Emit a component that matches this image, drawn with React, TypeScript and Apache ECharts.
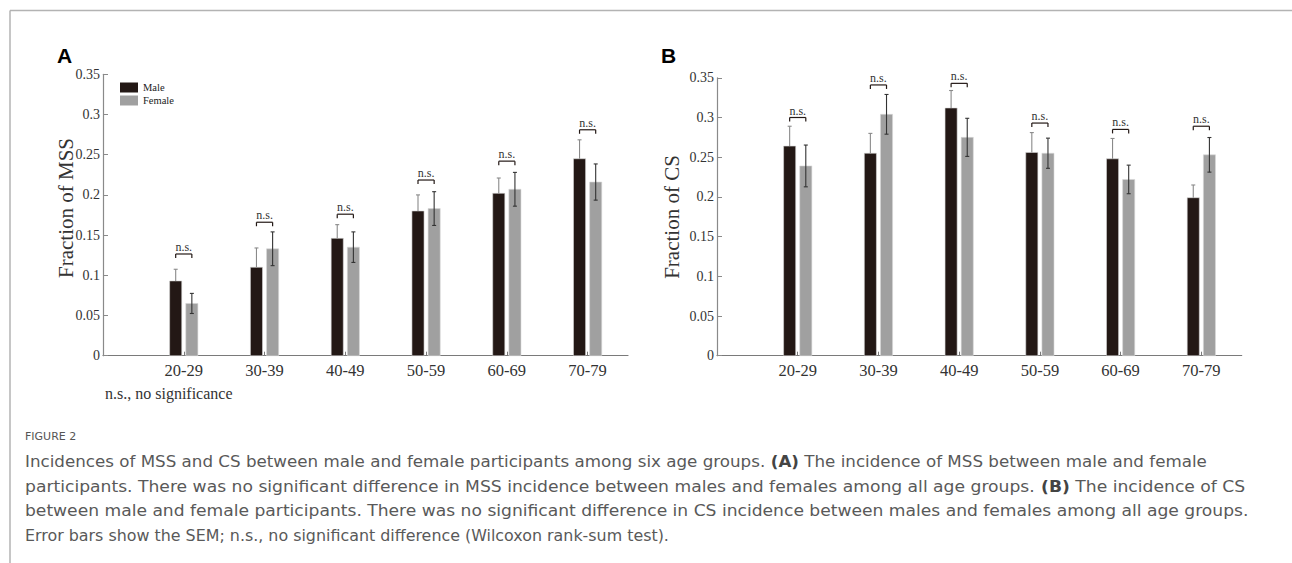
import React, { useEffect, useRef } from "react";
import * as echarts from "echarts";

const categories = ["20-29", "30-39", "40-49", "50-59", "60-69", "70-79"];
const yTicks = [0, 0.05, 0.1, 0.15, 0.2, 0.25, 0.3, 0.35];

const mssMale = [0.093, 0.11, 0.146, 0.18, 0.202, 0.245];
const mssMaleErr = [0.0145, 0.024, 0.017, 0.02, 0.019, 0.0235];
const mssFemale = [0.065, 0.133, 0.135, 0.183, 0.207, 0.216];
const mssFemaleErr = [0.0125, 0.021, 0.019, 0.021, 0.021, 0.0225];
const mssBracket = [0.1265, 0.166, 0.176, 0.2185, 0.242, 0.281];

const csMale = [0.264, 0.255, 0.312, 0.256, 0.248, 0.199];
const csMaleErr = [0.025, 0.025, 0.022, 0.025, 0.0256, 0.016];
const csFemale = [0.239, 0.304, 0.275, 0.255, 0.222, 0.253];
const csFemaleErr = [0.0263, 0.025, 0.024, 0.019, 0.018, 0.0218];
const csBracket = [0.3, 0.341, 0.343, 0.293, 0.285, 0.289];

const captionLines = [
  "Incidences of MSS and CS between male and female participants among six age groups. {b|(A)} The incidence of MSS between male and female",
  "participants. There was no significant difference in MSS incidence between males and females among all age groups. {b|(B)} The incidence of CS",
  "between male and female participants. There was no significant difference in CS incidence between males and females among all age groups.",
  "Error bars show the SEM; n.s., no significant difference (Wilcoxon rank-sum test).",
];
const captionStretch = [1.078, 1.108, 1.105, 1.025];

const MALE = "#231815";
const FEMALE = "#a0a0a0";
const SERIF = "Liberation Serif";
const SANS = "DejaVu Sans";

function barSeries(name: string, gi: number, vals: number[], errs: number[], off: number, color: string, errColor: string, full: boolean) {
  return {
    type: "custom",
    name,
    xAxisIndex: gi,
    yAxisIndex: gi,
    clip: false,
    itemStyle: { color },
    encode: { x: 0, y: 1 },
    data: vals.map((v, i) => [i + 1, v, errs[i]]),
    renderItem: (params: any, api: any) => {
      const x = api.value(0) + off;
      const v = api.value(1);
      const e = api.value(2);
      const w = api.size([0.15, 0])[0];
      const top = api.coord([x, v]);
      const base = api.coord([x, 0]);
      const et = api.coord([x, v + e]);
      const eb = api.coord([x, v - e]);
      const cx = top[0];
      const children: any[] = [
        {
          type: "rect",
          shape: { x: cx - w / 2, y: top[1], width: w, height: base[1] - top[1] },
          style: { fill: color, stroke: "#d8d8d8", lineWidth: 0.6 },
        },
        {
          type: "line",
          shape: { x1: cx, y1: full ? eb[1] : top[1], x2: cx, y2: et[1] },
          style: { stroke: errColor, lineWidth: 1.1 },
        },
        {
          type: "line",
          shape: { x1: cx - 2, y1: et[1], x2: cx + 2, y2: et[1] },
          style: { stroke: errColor, lineWidth: 1.1 },
        },
      ];
      if (full) {
        children.push({
          type: "line",
          shape: { x1: cx - 2, y1: eb[1], x2: cx + 2, y2: eb[1] },
          style: { stroke: errColor, lineWidth: 1.1 },
        });
      }
      return { type: "group", children };
    },
  };
}

function bracketSeries(gi: number, vals: number[]) {
  return {
    type: "custom",
    name: "n.s." + gi,
    xAxisIndex: gi,
    yAxisIndex: gi,
    clip: false,
    encode: { x: 0, y: 1 },
    data: vals.map((v, i) => [i + 1, v]),
    renderItem: (params: any, api: any) => {
      const x = api.value(0);
      const b = api.value(1);
      const l = api.coord([x - 0.1, b]);
      const r = api.coord([x + 0.1, b]);
      const st = { stroke: "#231815", lineWidth: 1.2 };
      return {
        type: "group",
        children: [
          { type: "line", shape: { x1: l[0], y1: l[1], x2: r[0], y2: r[1] }, style: st },
          { type: "line", shape: { x1: l[0], y1: l[1], x2: l[0], y2: l[1] + 4 }, style: st },
          { type: "line", shape: { x1: r[0], y1: r[1], x2: r[0], y2: r[1] + 4 }, style: st },
          {
            type: "text",
            x: (l[0] + r[0]) / 2,
            y: l[1] - 1,
            style: { text: "n.s.", fontFamily: SERIF, fontSize: 12, fill: "#333", align: "center", verticalAlign: "bottom" },
          },
        ],
      };
    },
  };
}

function xAxis(gi: number) {
  return {
    type: "value",
    gridIndex: gi,
    min: 0,
    max: 6.5,
    interval: 1,
    axisLine: { show: true, lineStyle: { color: "#7a7a7a", width: 1.2 } },
    axisTick: { show: true, inside: true, length: 4, customValues: [1, 2, 3, 4, 5, 6], lineStyle: { color: "#7a7a7a" } },
    axisLabel: {
      customValues: [1, 2, 3, 4, 5, 6],
      formatter: (v: number) => categories[Math.round(v) - 1] ?? "",
      fontFamily: SERIF,
      fontSize: 16.5,
      color: "#333",
      margin: 6,
    },
    splitLine: { show: false },
  };
}

function yAxis(gi: number) {
  return {
    type: "value",
    gridIndex: gi,
    min: 0,
    max: 0.35,
    interval: 0.05,
    axisLine: { show: true, lineStyle: { color: "#8a8a8a", width: 1.2 } },
    axisTick: { show: true, inside: true, length: 5, customValues: yTicks, lineStyle: { color: "#8a8a8a" } },
    axisLabel: {
      customValues: yTicks,
      formatter: (v: number) => String(Math.round(v * 100) / 100),
      fontFamily: SERIF,
      fontSize: 14,
      color: "#333",
      margin: 3,
    },
    splitLine: { show: false },
  };
}

export default function App() {
  const ref = useRef<HTMLDivElement>(null);
  useEffect(() => {
    if (!ref.current) return;
    const chart = echarts.init(ref.current, null, { renderer: "svg" });
    const graphic: any[] = [
      { type: "line", shape: { x1: 10, y1: 10.5, x2: 1292, y2: 10.5 }, style: { stroke: "#b3b3b3", lineWidth: 1.5 } },
      { type: "line", shape: { x1: 10, y1: 10.5, x2: 10, y2: 563 }, style: { stroke: "#b3b3b3", lineWidth: 1.5 } },
      { type: "text", x: 57, y: 55, style: { text: "A", fontFamily: "Liberation Sans", fontWeight: "bold", fontSize: 21, fill: "#000", verticalAlign: "middle" } },
      { type: "text", x: 661, y: 55, style: { text: "B", fontFamily: "Liberation Sans", fontWeight: "bold", fontSize: 21, fill: "#000", verticalAlign: "middle" } },
      { type: "text", x: 66, y: 208, rotation: Math.PI / 2, style: { text: "Fraction of MSS", fontFamily: SERIF, fontSize: 21, fill: "#333", align: "center", verticalAlign: "middle" } },
      { type: "text", x: 672, y: 217, rotation: Math.PI / 2, style: { text: "Fraction of CS", fontFamily: SERIF, fontSize: 21, fill: "#333", align: "center", verticalAlign: "middle" } },
      { type: "text", x: 105, y: 393, style: { text: "n.s., no significance", fontFamily: SERIF, fontSize: 16, fill: "#333", verticalAlign: "middle" } },
      { type: "text", x: 25, y: 436, style: { text: "FIGURE 2", fontFamily: SANS, fontSize: 11, fill: "#555", verticalAlign: "middle" } },
    ];
    captionLines.forEach((t, i) => {
      graphic.push({
        type: "text",
        x: 25,
        y: 462 + i * 24.5,
        scaleX: captionStretch[i],
        style: {
          text: t,
          fontFamily: SANS,
          fontSize: 15.5,
          fill: "#595959",
          verticalAlign: "middle",
          rich: { b: { fontFamily: SANS, fontSize: 15.5, fontWeight: "bold", fill: "#444" } },
        },
      });
    });
    chart.setOption({
      animation: false,
      backgroundColor: "#fff",
      textStyle: { fontFamily: SERIF },
      grid: [
        { left: 103, top: 74.3, width: 525, height: 281.4 },
        { left: 717, top: 77.8, width: 524.7, height: 277.9 },
      ],
      xAxis: [xAxis(0), xAxis(1)],
      yAxis: [yAxis(0), yAxis(1)],
      legend: {
        data: ["Male", "Female"],
        orient: "vertical",
        left: 115,
        top: 77,
        itemWidth: 18,
        itemHeight: 10,
        itemGap: 2,
        icon: "rect",
        textStyle: { fontFamily: SERIF, fontSize: 10.5, color: "#222" },
        selectedMode: false,
      },
      series: [
        barSeries("Male", 0, mssMale, mssMaleErr, -0.1, MALE, "#8a8a8a", false),
        barSeries("Female", 0, mssFemale, mssFemaleErr, 0.1, FEMALE, "#333", true),
        bracketSeries(0, mssBracket),
        barSeries("Male", 1, csMale, csMaleErr, -0.1, MALE, "#8a8a8a", false),
        barSeries("Female", 1, csFemale, csFemaleErr, 0.1, FEMALE, "#333", true),
        bracketSeries(1, csBracket),
      ],
      graphic,
    });
    return () => chart.dispose();
  }, []);
  return <div ref={ref} style={{ position: "absolute", left: 0, top: 0, width: 1292, height: 563 }} />;
}
